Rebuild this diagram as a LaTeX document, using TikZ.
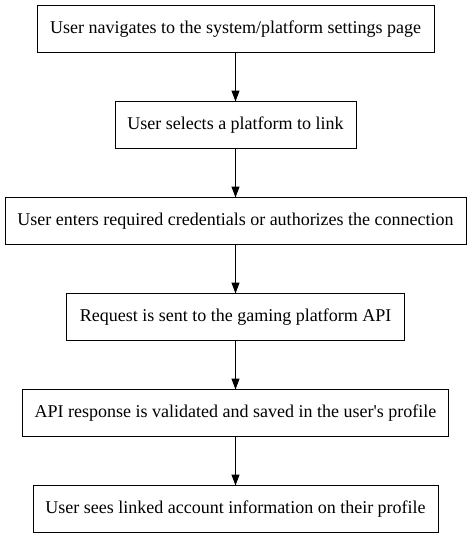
\documentclass[tikz,border=0pt]{standalone}
\usepackage{fontspec}
\setmainfont{Liberation Serif}
\usetikzlibrary{arrows.meta}

\tikzset{
  stepbox/.style={draw, line width=1pt, minimum height=47pt, inner sep=0pt,
    outer sep=0pt, font=\fontsize{18}{20}\selectfont},
  flow/.style={line width=1pt, -{Triangle[length=11pt,width=8pt]}}
}

\begin{document}
\begin{tikzpicture}
    \useasboundingbox (0,0) rectangle (472pt,-539pt);

    \node[stepbox, minimum width=397pt] (nav) at (235.5pt,-29pt)
      {User navigates to the system/platform settings page};
    \node[stepbox, minimum width=241pt] (select) at (235.5pt,-125pt)
      {User selects a platform to link};
    \node[stepbox, minimum width=461pt] (creds) at (235.5pt,-221pt)
      {User enters required credentials or authorizes the connection};
    \node[stepbox, minimum width=338pt] (request) at (235.5pt,-317pt)
      {Request is sent to the gaming platform API};
    \node[stepbox, minimum width=426pt] (validate) at (235.5pt,-413pt)
      {API response is validated and saved in the user\textquotesingle s profile};
    \node[stepbox, minimum width=405pt] (linked) at (235.5pt,-509pt)
      {User sees linked account information on their profile};

    \draw[flow] (nav) -- (select);
    \draw[flow] (select) -- (creds);
    \draw[flow] (creds) -- (request);
    \draw[flow] (request) -- (validate);
    \draw[flow] (validate) -- (linked);
\end{tikzpicture}
\end{document}
